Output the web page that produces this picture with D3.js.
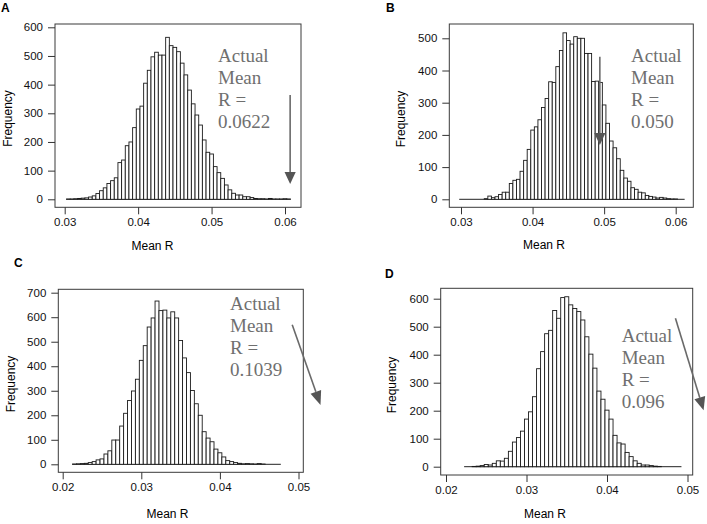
<!DOCTYPE html>
<html>
<head>
<meta charset="utf-8">
<script src="https://cdn.jsdelivr.net/npm/d3@7/dist/d3.min.js"></script>
<style>
body { margin: 0; background: #fff; }
svg { display: block; }
</style>
</head>
<body>
<svg id="chart" width="707" height="524"></svg>
<script>
// every histogram uses bins of 0.0005 centred on multiples of 0.0005
var binWidth = 0.0005;

// A
var startA = 0.0305;
var countsA = [1, 1, 2, 3, 4, 5, 8, 12, 20, 30, 40, 55, 65, 75, 128, 137, 187, 200, 250, 315, 325,
    405, 450, 497, 513, 503, 503, 565, 536, 530, 515, 475, 434, 381, 333, 294, 259, 207, 164, 158,
    114, 93, 73, 50, 33, 21, 15, 15, 9, 9, 6, 3, 2, 2, 1, 3, 1, 1, 1, 2, 1];
var xTicksA = [0.03, 0.04, 0.05, 0.06];
var yTicksA = [0, 100, 200, 300, 400, 500, 600];
var noteA = ["Actual", "Mean", "R =", "0.0622"];
var arrowA = [[0.0607, 364], [0.0607, 53]];

// B
var startB = 0.030;
var countsB = [0, 0, 0, 0, 0, 0, 0, 2, 10, 5, 8, 15, 22, 22, 49, 59, 62, 87, 121, 155, 215,
    225, 247, 285, 313, 365, 363, 412, 462, 517, 493, 482, 505, 500, 500, 453, 453, 366, 367, 363,
    293, 236, 181, 160, 126, 90, 66, 56, 36, 31, 22, 20, 12, 9, 7, 4, 6, 4, 2, 1, 1, 0, 0];
var xTicksB = [0.03, 0.04, 0.05, 0.06];
var yTicksB = [0, 100, 200, 300, 400, 500];
var noteB = ["Actual", "Mean", "R =", "0.050"];
var arrowB = [[0.0494, 443], [0.0494, 169]];

// C
var startC = 0.0215;
var countsC = [1, 2, 3, 4, 7, 11, 18, 22, 42, 55, 99, 99, 156, 208, 260, 299, 347, 424, 484, 560,
    597, 666, 627, 629, 597, 622, 597, 505, 434, 374, 301, 247, 200, 133, 107, 92, 62, 47, 30, 15,
    11, 7, 4, 2, 3, 2, 1, 3, 1, 0, 0, 0, 0];
var xTicksC = [0.02, 0.03, 0.04, 0.05];
var yTicksC = [0, 100, 200, 300, 400, 500, 600, 700];
var noteC = ["Actual", "Mean", "R =", "0.1039"];
var arrowC = [[0.0492, 569], [0.0528, 242]];

// D
var startD = 0.0225;
var countsD = [0, 0, 1, 2, 4, 8, 6, 12, 21, 20, 30, 55, 88, 104, 127, 170, 196, 250, 350, 411,
    475, 487, 558, 530, 604, 607, 578, 565, 554, 524, 464, 402, 352, 270, 241, 202, 170, 112, 85, 81,
    51, 36, 21, 12, 6, 6, 4, 2, 1, 0, 0, 0, 0, 0];
var xTicksD = [0.02, 0.03, 0.04, 0.05];
var yTicksD = [0, 100, 200, 300, 400, 500, 600];
var noteD = ["Actual", "Mean", "R =", "0.096"];
var arrowD = [[0.0485, 530], [0.0520, 202]];

// where each panel sits on the page (pixels)
var panels = [
    { name: "A", start: startA, counts: countsA, xTicks: xTicksA, yTicks: yTicksA, note: noteA, arrow: arrowA,
      xPix: [64.7, 285], yPix: [199.3, 27.3], box: [55, 24, 301, 207.3],
      label: [1, 12], ylab: [11.5, 118.5], xlab: [152.5, 250], notePos: [218, 61.7], headLen: 12 },
    { name: "B", start: startB, counts: countsB, xTicks: xTicksB, yTicks: yTicksB, note: noteB, arrow: arrowB,
      xPix: [461, 675.7], yPix: [199.3, 38.3], box: [449.3, 24, 693.3, 207.3],
      label: [386, 12], ylab: [404.5, 119], xlab: [544, 249], notePos: [631, 61.7], headLen: 12 },
    { name: "C", start: startC, counts: countsC, xTicks: xTicksC, yTicks: yTicksC, note: noteC, arrow: arrowC,
      xPix: [62.7, 298.5], yPix: [464.3, 292.7], box: [58.3, 289.3, 303.3, 472.3],
      label: [14, 267], ylab: [14.5, 384], xlab: [167.5, 518], notePos: [230, 310], headLen: 14 },
    { name: "D", start: startD, counts: countsD, xTicks: xTicksD, yTicks: yTicksD, note: noteD, arrow: arrowD,
      xPix: [446, 687.5], yPix: [466.7, 298.7], box: [440.7, 288.3, 692.7, 475],
      label: [385, 278], ylab: [396, 385], xlab: [545, 518], notePos: [621.7, 341.7], headLen: 13 }
];

var svg = d3.select("#chart");
svg.append("rect").attr("width", 707).attr("height", 524).attr("fill", "#fff");

var sans = "'Liberation Sans', Arial, sans-serif";
var serif = "'Liberation Serif', 'Times New Roman', serif";
var grayText = "#6f6f6f";

function drawPanel(p)
{
    var g = svg.append("g").attr("class", "panel_" + p.name);
    var x = d3.scaleLinear()
        .domain([p.xTicks[0], p.xTicks[p.xTicks.length - 1]])
        .range(p.xPix);
    var y = d3.scaleLinear()
        .domain([p.yTicks[0], p.yTicks[p.yTicks.length - 1]])
        .range(p.yPix);

    var bins = p.counts.map(function (c, i) { return { mid: p.start + i * binWidth, n: c }; });
    var first = bins[0].mid - binWidth / 2;
    var last = bins[bins.length - 1].mid + binWidth / 2;

    // empty bins only show as the baseline
    g.append("line")
        .attr("x1", x(first)).attr("x2", x(last))
        .attr("y1", y(0)).attr("y2", y(0))
        .attr("stroke", "#222").attr("stroke-width", 1);

    g.selectAll("rect.bar")
        .data(bins.filter(function (d) { return d.n > 0; }))
        .enter()
        .append("rect")
        .attr("class", "bar")
        .attr("x", function (d) { return x(d.mid - binWidth / 2); })
        .attr("width", function (d) { return x(d.mid + binWidth / 2) - x(d.mid - binWidth / 2); })
        .attr("y", function (d) { return y(d.n); })
        .attr("height", function (d) { return y(0) - y(d.n); })
        .attr("fill", "#fff")
        .attr("stroke", "#1a1a1a")
        .attr("stroke-width", 0.9);

    // frame round the plot region
    g.append("rect")
        .attr("x", p.box[0]).attr("y", p.box[1])
        .attr("width", p.box[2] - p.box[0]).attr("height", p.box[3] - p.box[1])
        .attr("fill", "none").attr("stroke", "#3a3a3a").attr("stroke-width", 1);

    var xAxis = g.append("g")
        .attr("transform", "translate(0," + p.box[3] + ")")
        .call(d3.axisBottom(x).tickValues(p.xTicks).tickFormat(d3.format(".2f")).tickSize(7).tickPadding(4));
    var yAxis = g.append("g")
        .attr("transform", "translate(" + p.box[0] + ",0)")
        .call(d3.axisLeft(y).tickValues(p.yTicks).tickFormat(d3.format("d")).tickSize(7).tickPadding(5));
    [xAxis, yAxis].forEach(function (ax) {
        ax.select(".domain").remove();
        ax.selectAll("line").attr("stroke", "#333");
        ax.selectAll("text").attr("font-family", sans).attr("font-size", "11.5px").attr("fill", "#111");
    });

    g.append("text")
        .attr("x", p.label[0]).attr("y", p.label[1])
        .attr("font-family", sans).attr("font-weight", "bold").attr("font-size", "12px")
        .text(p.name);

    g.append("text")
        .attr("transform", "translate(" + p.ylab[0] + "," + p.ylab[1] + ") rotate(-90)")
        .attr("text-anchor", "middle")
        .attr("font-family", sans).attr("font-size", "12px")
        .text("Frequency");

    g.append("text")
        .attr("x", p.xlab[0]).attr("y", p.xlab[1])
        .attr("text-anchor", "middle")
        .attr("font-family", sans).attr("font-size", "12px")
        .text("Mean R");

    g.selectAll("text.note")
        .data(p.note)
        .enter()
        .append("text")
        .attr("class", "note")
        .attr("x", p.notePos[0])
        .attr("y", function (d, i) { return p.notePos[1] + i * 22; })
        .attr("font-family", serif).attr("font-size", "19px")
        .attr("fill", grayText)
        .text(function (d) { return d; });

    // arrow pointing at the observed mean
    var x1 = x(p.arrow[0][0]), y1 = y(p.arrow[0][1]);
    var x2 = x(p.arrow[1][0]), y2 = y(p.arrow[1][1]);
    var len = Math.sqrt((x2 - x1) * (x2 - x1) + (y2 - y1) * (y2 - y1));
    var ux = (x2 - x1) / len, uy = (y2 - y1) / len;
    var bx = x2 - ux * p.headLen, by = y2 - uy * p.headLen;
    var hw = 5.6;
    g.append("line")
        .attr("x1", x1).attr("y1", y1).attr("x2", bx).attr("y2", by)
        .attr("stroke", "#6a6a6a").attr("stroke-width", 1.6);
    g.append("polygon")
        .attr("points", [[x2, y2], [bx - uy * hw, by + ux * hw], [bx + uy * hw, by - ux * hw]].join(" "))
        .attr("fill", "#555");
}

for (var i in panels) {
    drawPanel(panels[i]);
}
</script>
</body>
</html>
